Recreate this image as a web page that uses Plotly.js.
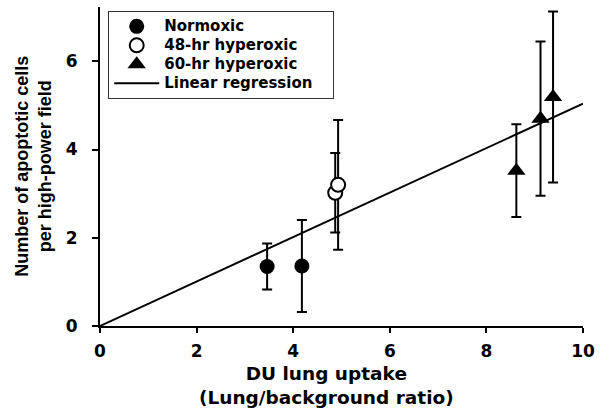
<!DOCTYPE html>
<html>
<head>
<meta charset="utf-8">
<script src="https://cdn.plot.ly/plotly-3.0.1.min.js"></script>
<style>
  html, body { margin: 0; padding: 0; background: #fff; }
  #chart { width: 600px; height: 410px; }
</style>
</head>
<body>
<div id="chart"></div>
<script>
// values
const normoxicX = [3.46, 4.18];
const normoxicY = [1.35, 1.36];
const normoxicErr = [0.52, 1.04];

const hyper48X = [4.87, 4.93];
const hyper48Y = [3.02, 3.20];
const hyper48Err = [0.90, 1.47];

const hyper60X = [8.62, 9.12, 9.38];
const hyper60Y = [3.52, 4.70, 5.19];
const hyper60Err = [1.05, 1.75, 1.94];

const regX = [0, 10];
const regY = [0, 5.04];

const seriesNames = ['Normoxic', '48-hr hyperoxic', '60-hr hyperoxic', 'Linear regression'];

const xTicks = [0, 2, 4, 6, 8, 10];
const yTicks = [0, 2, 4, 6];

const boldFont = 'DejaVu Sans, sans-serif';

function errBar(arr) {
  return { type: 'data', array: arr, visible: true, color: '#000', thickness: 2, width: 5 };
}

// legend rows are tight in the original, so the row height comes from a small
// legend font while the label itself is drawn a bit larger
function legendName(s, pad) {
  return '<span style="font-size:15px">' + s + (pad || '') + '</span>';
}

const data = [
  {
    x: normoxicX, y: normoxicY, name: legendName(seriesNames[0]),
    type: 'scatter', mode: 'markers',
    marker: { symbol: 'circle', size: 15, color: '#000' },
    error_y: errBar(normoxicErr)
  },
  {
    x: hyper48X, y: hyper48Y, name: legendName(seriesNames[1]),
    type: 'scatter', mode: 'markers',
    marker: { symbol: 'circle', size: 14, color: '#fff', line: { color: '#000', width: 2 } },
    error_y: errBar(hyper48Err)
  },
  {
    x: hyper60X, y: hyper60Y, name: legendName(seriesNames[2]),
    type: 'scatter', mode: 'markers',
    marker: { symbol: 'triangle-up', size: 16, color: '#000' },
    error_y: errBar(hyper60Err)
  },
  {
    // trailing spaces widen the legend box a little, like the original
    x: regX, y: regY, name: legendName(seriesNames[3], '&nbsp;&nbsp;&nbsp;'),
    type: 'scatter', mode: 'lines',
    line: { color: '#000', width: 2 }
  }
];

const layout = {
  width: 600,
  height: 410,
  paper_bgcolor: '#fff',
  plot_bgcolor: '#fff',
  margin: { l: 100, r: 17, t: 7, b: 84 },
  showlegend: true,
  legend: {
    x: 0.017, y: 0.988, xanchor: 'left', yanchor: 'top',
    bordercolor: '#333', borderwidth: 1,
    bgcolor: '#fff',
    itemwidth: 45,
    tracegroupgap: 0,
    font: { family: boldFont, size: 12.3, color: '#000', weight: 'bold' }
  },
  xaxis: {
    range: [0, 10],
    tickvals: xTicks,
    showgrid: false, zeroline: false,
    showline: true, linecolor: '#000', linewidth: 2,
    ticks: 'outside', ticklen: 5, tickwidth: 2, tickcolor: '#000',
    ticklabelstandoff: 4,
    tickfont: { family: boldFont, size: 17, color: '#000', weight: 'bold' }
  },
  yaxis: {
    range: [0, 7.23],
    tickvals: yTicks,
    showgrid: false, zeroline: false,
    showline: true, linecolor: '#000', linewidth: 2,
    ticks: 'outside', ticklen: 6, tickwidth: 2, tickcolor: '#000',
    ticklabelstandoff: 11,
    tickfont: { family: boldFont, size: 17, color: '#000', weight: 'bold' }
  },
  annotations: [
    {
      text: 'DU lung uptake<br>(Lung/background ratio)',
      xref: 'paper', yref: 'paper',
      x: 0.469, y: -0.11, xanchor: 'center', yanchor: 'top',
      showarrow: false,
      font: { family: boldFont, size: 18.5, color: '#000', weight: 'bold' }
    },
    {
      text: 'Number of apoptotic cells<br>per high-power field',
      xref: 'paper', yref: 'paper',
      x: -0.138, y: 0.5, xanchor: 'center', yanchor: 'middle',
      textangle: -90,
      showarrow: false,
      font: { family: 'Liberation Sans, Arial, sans-serif', size: 18, color: '#000', weight: 'bold' }
    }
  ]
};

Plotly.newPlot('chart', data, layout, { displayModeBar: false, staticPlot: true });
</script>
</body>
</html>
